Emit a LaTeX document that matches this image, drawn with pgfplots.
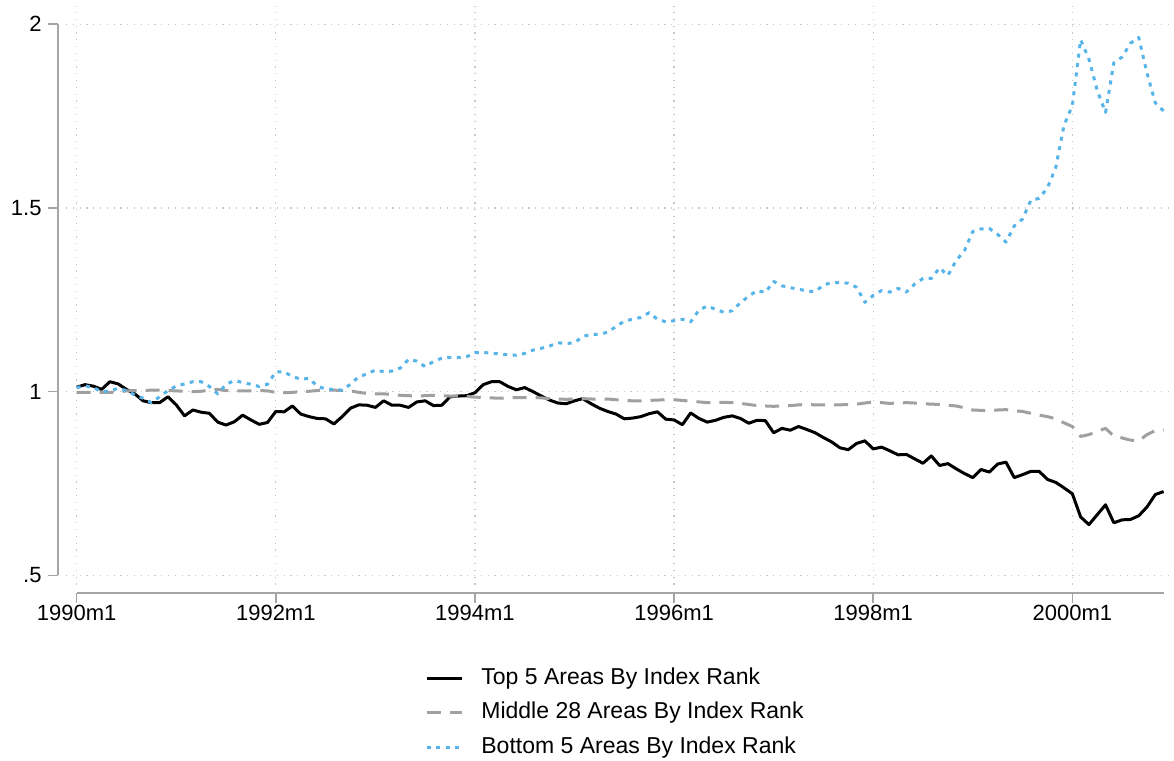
\documentclass[border=0pt]{standalone}
\usepackage{fontspec}
\setmainfont{Liberation Sans}
\usepackage{pgfplots}
\pgfplotsset{compat=1.18}
\usepackage{pgfplotstable}

\definecolor{topcol}{RGB}{0,0,0}
\definecolor{midcol}{RGB}{160,160,160}
\definecolor{botcol}{RGB}{86,180,233}
\definecolor{axcol}{RGB}{165,165,165}
\definecolor{gridcol}{RGB}{200,200,200}

% monthly index, month 0 = 1990m1
\pgfplotstableread{
m top mid bot
0 1.012 0.998 1.011
1 1.019 0.998 1.016
2 1.015 0.998 1.011
3 1.006 0.998 1.000
4 1.027 0.998 1.002
5 1.021 0.999 1.009
6 1.006 1.002 1.003
7 0.994 1.003 0.991
8 0.975 1.003 0.982
9 0.970 1.004 0.970
10 0.970 1.004 0.986
11 0.986 1.003 1.003
12 0.964 1.002 1.015
13 0.934 1.001 1.021
14 0.950 1.000 1.027
15 0.944 1.001 1.027
16 0.941 1.004 1.014
17 0.917 1.006 0.994
18 0.909 1.003 1.020
19 0.918 1.002 1.030
20 0.936 1.002 1.025
21 0.923 1.002 1.020
22 0.911 1.003 1.014
23 0.916 1.002 1.020
24 0.946 0.998 1.054
25 0.945 0.997 1.054
26 0.961 0.998 1.041
27 0.939 1.000 1.034
28 0.932 1.001 1.036
29 0.927 1.003 1.015
30 0.926 1.004 1.007
31 0.912 1.004 1.006
32 0.932 1.003 1.004
33 0.955 1.002 1.020
34 0.964 0.998 1.041
35 0.963 0.995 1.048
36 0.957 0.994 1.059
37 0.975 0.994 1.054
38 0.963 0.992 1.056
39 0.963 0.990 1.064
40 0.957 0.989 1.088
41 0.972 0.988 1.083
42 0.975 0.989 1.068
43 0.962 0.990 1.082
44 0.963 0.989 1.091
45 0.986 0.988 1.093
46 0.988 0.988 1.093
47 0.989 0.987 1.095
48 0.997 0.985 1.106
49 1.019 0.984 1.107
50 1.027 0.983 1.104
51 1.027 0.982 1.103
52 1.014 0.983 1.100
53 1.005 0.984 1.099
54 1.011 0.984 1.104
55 1.000 0.984 1.113
56 0.988 0.983 1.118
57 0.977 0.981 1.124
58 0.969 0.980 1.133
59 0.967 0.979 1.131
60 0.975 0.980 1.133
61 0.981 0.981 1.150
62 0.967 0.980 1.156
63 0.955 0.979 1.156
64 0.946 0.980 1.162
65 0.939 0.978 1.177
66 0.926 0.976 1.192
67 0.928 0.975 1.197
68 0.932 0.975 1.202
69 0.940 0.976 1.215
70 0.945 0.977 1.197
71 0.925 0.978 1.190
72 0.923 0.978 1.193
73 0.910 0.976 1.197
74 0.942 0.974 1.190
75 0.927 0.972 1.222
76 0.917 0.970 1.233
77 0.922 0.971 1.224
78 0.930 0.971 1.216
79 0.934 0.970 1.220
80 0.927 0.968 1.242
81 0.914 0.965 1.260
82 0.922 0.962 1.275
83 0.921 0.961 1.270
84 0.888 0.960 1.300
85 0.900 0.961 1.288
86 0.895 0.962 1.283
87 0.905 0.964 1.279
88 0.897 0.965 1.274
89 0.888 0.964 1.272
90 0.875 0.964 1.290
91 0.863 0.964 1.297
92 0.847 0.964 1.297
93 0.842 0.965 1.295
94 0.859 0.966 1.284
95 0.866 0.969 1.243
96 0.844 0.972 1.262
97 0.849 0.970 1.275
98 0.839 0.968 1.271
99 0.828 0.969 1.281
100 0.829 0.970 1.271
101 0.817 0.969 1.293
102 0.805 0.967 1.308
103 0.825 0.966 1.308
104 0.799 0.965 1.337
105 0.804 0.963 1.316
106 0.790 0.961 1.357
107 0.777 0.956 1.384
108 0.766 0.950 1.436
109 0.788 0.949 1.443
110 0.781 0.948 1.444
111 0.803 0.950 1.428
112 0.808 0.951 1.407
113 0.766 0.948 1.451
114 0.774 0.946 1.470
115 0.783 0.941 1.521
116 0.783 0.936 1.526
117 0.761 0.932 1.555
118 0.753 0.926 1.610
119 0.738 0.915 1.725
120 0.722 0.905 1.779
121 0.659 0.878 1.958
122 0.638 0.883 1.905
123 0.665 0.892 1.820
124 0.692 0.900 1.760
125 0.643 0.879 1.895
126 0.651 0.874 1.911
127 0.652 0.868 1.948
128 0.662 0.866 1.964
129 0.686 0.883 1.867
130 0.720 0.894 1.786
131 0.728 0.896 1.764
}\indexdata

\begin{document}
\begin{tikzpicture}
\begin{axis}[
  scale only axis,
  width=553bp, height=289.3bp,
  xmin=-1.3, xmax=132, ymin=0.475, ymax=2.05,
  clip=false,
  axis x line*=bottom, axis y line*=left,
  axis x line shift=4.25bp, axis y line shift=4bp,
  axis line style={draw=none},
  xtick={0,24,48,72,96,120},
  xticklabels={1990m1,1992m1,1994m1,1996m1,1998m1,2000m1},
  ytick={0.5,1,1.5,2},
  yticklabels={.5,1,1.5,2},
  minor tick num=0,
  tick align=outside,
  major tick length=5bp,
  every tick/.style={axcol, line width=0.8bp},
  grid=major,
  major grid style={gridcol, line width=0.6bp, dash pattern=on 0.6bp off 2.8bp},
  tick label style={font=\fontsize{11bp}{13bp}\selectfont, black},
  xticklabel style={inner sep=1bp},
  yticklabel style={inner sep=3bp},
  legend cell align=left,
  legend image code/.code={\draw[#1] (0bp,0bp) -- (17.5bp,0bp);},
  legend style={
    at={(axis description cs:0.496,-0.2213)}, anchor=center,
    draw=none, fill=none, inner sep=0pt, row sep=5.25bp,
    font=\fontsize{11.5bp}{13bp}\selectfont,
    nodes={inner sep=0pt, text height=9bp, text depth=3bp},
    /tikz/every odd column/.append style={column sep=9bp},
  },
]
\addplot[topcol, line width=1.5bp, line join=round] table[x=m, y=top] {\indexdata};
\addlegendentry{Top 5 Areas By Index Rank}
\addplot[midcol, line width=1.5bp, line join=round, dash pattern=on 7bp off 4.5bp] table[x=m, y=mid] {\indexdata};
\addlegendentry{Middle 28 Areas By Index Rank}
\addplot[botcol, line width=1.5bp, line join=round, dash pattern=on 2bp off 2.75bp] table[x=m, y=bot] {\indexdata};
\addlegendentry{Bottom 5 Areas By Index Rank}

% axis lines span only the tick range, set off from the plot region
\draw[axcol, line width=0.8bp] ([xshift=-4bp]axis cs:-1.3,0.5) -- ([xshift=-4bp]axis cs:-1.3,2);
\draw[axcol, line width=0.8bp] ([yshift=-4.25bp]axis cs:0,0.475) -- ([yshift=-4.25bp]axis cs:131,0.475);
\coordinate (ll) at (rel axis cs:0,0);
\end{axis}
\pgfresetboundingbox
\path[use as bounding box] (ll) ++(-32.95bp,-88.25bp) rectangle ++(587bp,380.5bp);
\end{tikzpicture}
\end{document}
